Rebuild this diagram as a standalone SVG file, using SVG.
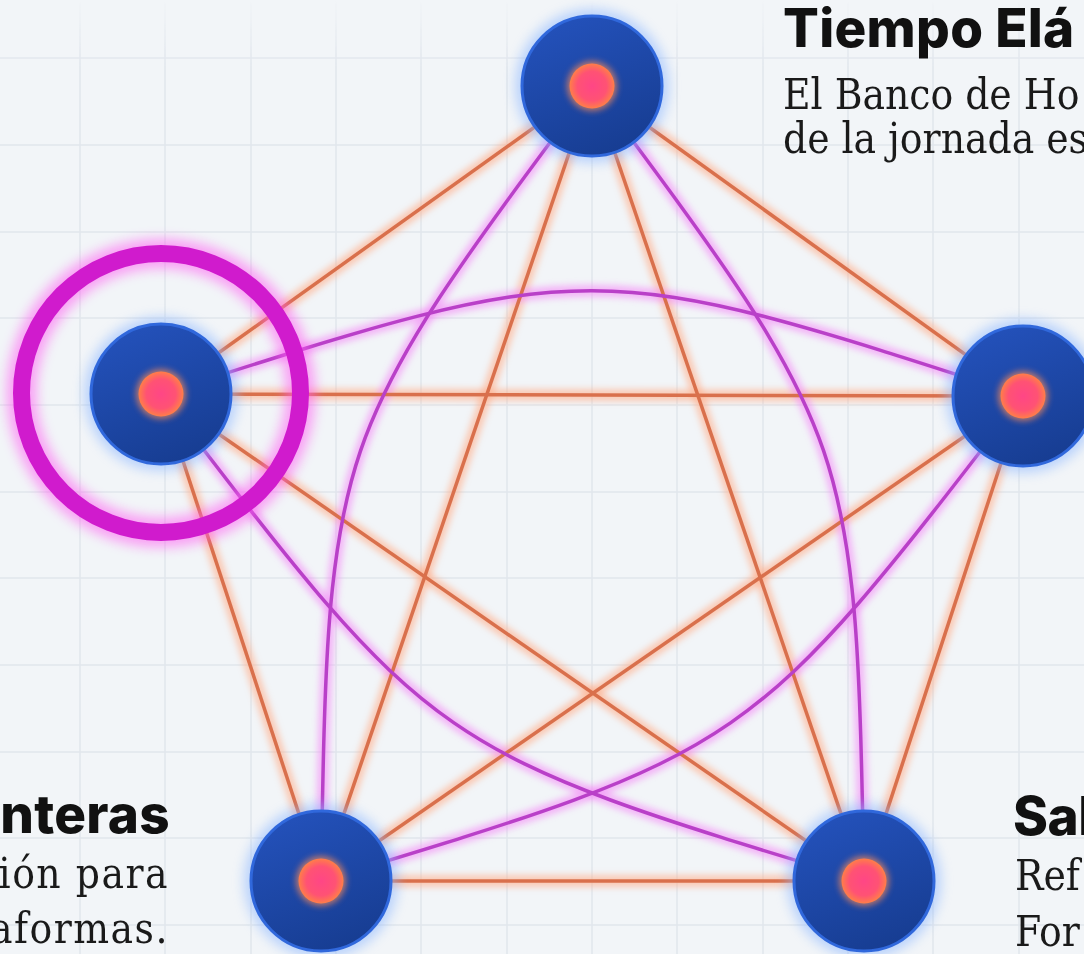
<svg xmlns="http://www.w3.org/2000/svg" width="1084" height="954" viewBox="0 0 1084 954">
<defs>
<style>
.grid line{stroke:#e1e6ec;stroke-width:1.5}
.eo{fill:none;stroke:#d9704c;stroke-width:3.5}
.eog{fill:none;stroke:#ffae88;stroke-width:12;opacity:.6}
.em{fill:none;stroke:#b940c8;stroke-width:3.5}
.emg{fill:none;stroke:#f48af6;stroke-width:12;opacity:.6}
.title{font-family:Inter,"Liberation Sans",sans-serif;font-weight:800;font-size:53px;fill:#111;letter-spacing:.3px}
.body{font-family:"DejaVu Serif Condensed","DejaVu Serif",serif;font-stretch:condensed;font-size:42px;fill:#1a1a1a}
.wide{letter-spacing:1.5px}
.tight{letter-spacing:-0.5px}
</style>
<filter id="blur3" x="-20%" y="-20%" width="140%" height="140%"><feGaussianBlur stdDeviation="3"/></filter>
<filter id="blur6" x="-50%" y="-50%" width="200%" height="200%"><feGaussianBlur stdDeviation="6"/></filter>
<linearGradient id="nodeFill" x1="0.2" y1="0" x2="0.6" y2="1"><stop offset="0" stop-color="#2452bc"/><stop offset="1" stop-color="#173d92"/></linearGradient>
<radialGradient id="dotFill"><stop offset="0" stop-color="#ff4686"/><stop offset="0.65" stop-color="#ff5274"/><stop offset="1" stop-color="#ff7e48"/></radialGradient>
<linearGradient id="fade" x1="0" y1="0" x2="0" y2="1"><stop offset="0" stop-color="#000"/><stop offset="0.07" stop-color="#fff"/></linearGradient>
<mask id="gridMask"><rect width="1084" height="954" fill="url(#fade)"/></mask>
<g id="nodeShape">
<circle r="77" fill="#8ab6ff" opacity=".55" filter="url(#blur6)"/>
<circle r="70" fill="url(#nodeFill)" stroke="#3068dc" stroke-width="3"/>
<circle r="25" fill="#ff8a55" opacity=".7" filter="url(#blur3)"/>
<circle r="22.5" fill="url(#dotFill)"/>
</g>
</defs>
<rect width="1084" height="954" fill="#f2f5f8"/>
<g class="grid" mask="url(#gridMask)">
<line x1="80" y1="0" x2="80" y2="954"/><line x1="165" y1="0" x2="165" y2="954"/><line x1="251" y1="0" x2="251" y2="954"/><line x1="336" y1="0" x2="336" y2="954"/><line x1="421" y1="0" x2="421" y2="954"/><line x1="507" y1="0" x2="507" y2="954"/><line x1="592" y1="0" x2="592" y2="954"/><line x1="677" y1="0" x2="677" y2="954"/><line x1="763" y1="0" x2="763" y2="954"/><line x1="848" y1="0" x2="848" y2="954"/><line x1="933" y1="0" x2="933" y2="954"/><line x1="1019" y1="0" x2="1019" y2="954"/>
<line x1="0" y1="58" x2="1084" y2="58"/><line x1="0" y1="145" x2="1084" y2="145"/><line x1="0" y1="232" x2="1084" y2="232"/><line x1="0" y1="318" x2="1084" y2="318"/><line x1="0" y1="405" x2="1084" y2="405"/><line x1="0" y1="492" x2="1084" y2="492"/><line x1="0" y1="578" x2="1084" y2="578"/><line x1="0" y1="665" x2="1084" y2="665"/><line x1="0" y1="752" x2="1084" y2="752"/><line x1="0" y1="838" x2="1084" y2="838"/><line x1="0" y1="925" x2="1084" y2="925"/>
</g>
<g id="connectors">
<g filter="url(#blur3)">
<path class="eog" d="M592,86 L161,394"/><path class="eog" d="M592,86 L1023,396"/><path class="eog" d="M592,86 L321,881"/><path class="eog" d="M592,86 L864,881"/><path class="eog" d="M161,394 L1023,396"/><path class="eog" d="M161,394 L321,881"/><path class="eog" d="M161,394 L864,881"/><path class="eog" d="M1023,396 L321,881"/><path class="eog" d="M1023,396 L864,881"/><path class="eog" d="M321,881 L864,881"/>
<path class="emg" d="M161,394 C592,256 592,256 1023,396"/><path class="emg" d="M592,86 C328.5,440 328.5,440 321,881"/><path class="emg" d="M592,86 C855.5,440 855.5,440 864,881"/><path class="emg" d="M161,394 C434,751 434,751 864,881"/><path class="emg" d="M1023,396 C750,751 750,751 321,881"/>
</g>
<path class="eo" d="M592,86 L161,394"/><path class="eo" d="M592,86 L1023,396"/><path class="eo" d="M592,86 L321,881"/><path class="eo" d="M592,86 L864,881"/><path class="eo" d="M161,394 L1023,396"/><path class="eo" d="M161,394 L321,881"/><path class="eo" d="M161,394 L864,881"/><path class="eo" d="M1023,396 L321,881"/><path class="eo" d="M1023,396 L864,881"/><path class="eo" d="M321,881 L864,881"/>
<path class="em" d="M161,394 C592,256 592,256 1023,396"/><path class="em" d="M592,86 C328.5,440 328.5,440 321,881"/><path class="em" d="M592,86 C855.5,440 855.5,440 864,881"/><path class="em" d="M161,394 C434,751 434,751 864,881"/><path class="em" d="M1023,396 C750,751 750,751 321,881"/>
</g>
<g id="node-top">
<use href="#nodeShape" x="592" y="86"/>
<text class="title" x="783" y="47">Tiempo Elá</text>
<text class="body" x="783" y="109">El Banco de Ho</text>
<text class="body" x="783" y="153">de la jornada es</text>
</g>
<g id="node-left">
<circle cx="161" cy="393" r="139.5" fill="none" stroke="#ff5cf2" stroke-width="30" opacity=".55" filter="url(#blur6)"/>
<circle cx="161" cy="393" r="139.5" fill="none" stroke="#d01bcd" stroke-width="17"/>
<use href="#nodeShape" x="161" y="394"/>
</g>
<g id="node-right">
<use href="#nodeShape" x="1023" y="396"/>
</g>
<g id="node-bottom-left">
<use href="#nodeShape" x="321" y="881"/>
<text class="title" x="170" y="833" text-anchor="end">nteras</text>
<text class="body wide" x="169" y="888" text-anchor="end">ión para</text>
<text class="body wide" x="169" y="943" text-anchor="end">aformas.</text>
</g>
<g id="node-bottom-right">
<use href="#nodeShape" x="864" y="881"/>
<text class="title tight" x="1013" y="835">Sal</text>
<text class="body" x="1015" y="890">Ref</text>
<text class="body" x="1015" y="946">For</text>
</g>
</svg>
